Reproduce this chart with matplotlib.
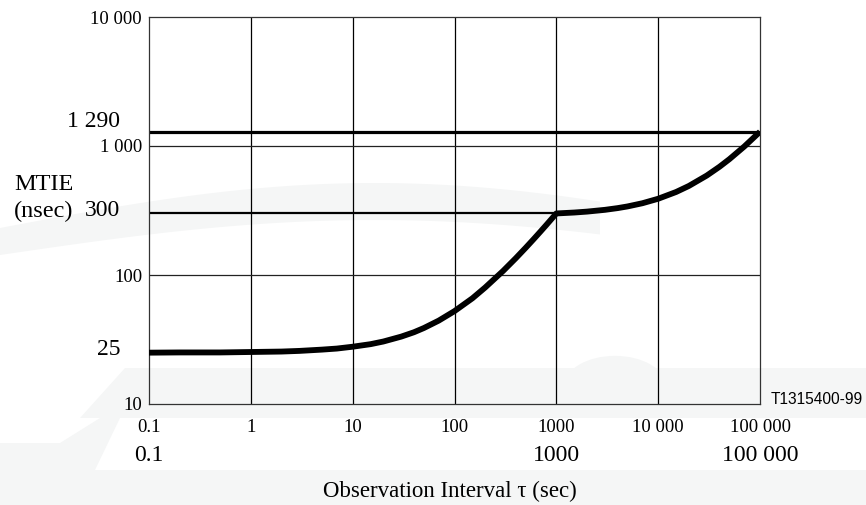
import matplotlib.pyplot as plt
import matplotlib.transforms as mtransforms
from matplotlib.patches import Polygon, Circle
import numpy as np

plt.rcParams["font.family"] = ["Liberation Serif", "DejaVu Serif"]

# MTIE mask (tau in sec, MTIE in nsec)
tau = [0.1, 0.2, 0.5, 1, 2, 3, 5, 7, 10, 15, 20, 30, 40, 50, 70, 100, 150, 200,
       300, 400, 500, 600, 700, 800, 1000, 1500, 2000, 3000, 4000, 5000, 7000,
       10000, 15000, 20000, 30000, 40000, 50000, 70000, 100000]
mtie = [25.0, 25.1, 25.1, 25.3, 25.5, 25.8, 26.4, 26.9, 27.8, 29.1, 30.5, 33.3,
        36.0, 38.8, 44.3, 52.5, 66.0, 80.0, 107.5, 135.0, 162.5, 190.0, 217.5,
        245.0, 300.0, 305.0, 310.0, 320.0, 330.0, 340.0, 360.0, 390.0, 440.0,
        490.0, 590.0, 690.0, 790.0, 990.0, 1290.0]

level_hi = 1290
level_mid = 300
level_mid_end = 1000

x_ticks = [0.1, 1, 10, 100, 1000, 10000, 100000]
x_tick_labels = ["0.1", "1", "10", "100", "1000", "10 000", "100 000"]
y_ticks = [10, 100, 1000, 10000]
y_tick_labels = ["10", "100", "1 000", "10 000"]

x_marks = [0.1, 1000, 100000]
x_mark_labels = ["0.1", "1000", "100 000"]
y_marks = [25, 300, 1290]
y_mark_labels = ["25", "300", "1 290"]
y_mark_lift = [3, 3, 10]  # px above the line

W, H = 866, 505
fig = plt.figure(figsize=(W / 100, H / 100), dpi=100)
fig.patch.set_facecolor("white")

# faint watermark behind the chart
wm = "#f5f6f6"
def px(pts):
    return [(x / W, 1 - y / H) for x, y in pts]

fig.patches.append(Polygon(px([(125, 368), (866, 368), (866, 418), (80, 418)]),
                           closed=True, transform=fig.transFigure, fc=wm, ec="none", zorder=-5))
fig.patches.append(Polygon(px([(0, 443), (60, 443), (100, 418), (120, 418), (95, 470),
                               (866, 470), (866, 505), (0, 505)]),
                           closed=True, transform=fig.transFigure, fc=wm, ec="none", zorder=-5))
t = np.linspace(0, 1, 40)
top_edge = [(600 * s, 228 - 45 * np.sin(np.pi * s * 0.8)) for s in t]
bot_edge = [(600 * s, 255 - 35 * np.sin(np.pi * s * 0.8)) for s in t[::-1]]
fig.patches.append(Polygon(px(top_edge + bot_edge), closed=True, transform=fig.transFigure,
                           fc=wm, ec="none", zorder=-5))
fig.patches.append(Circle((615 / W, 1 - 385 / H), 50 / W, transform=fig.transFigure,
                          fc=wm, ec="none", zorder=-5))

ax = fig.add_axes([149 / W, 101 / H, 611 / W, 387 / H])
ax.set_facecolor("none")
ax.set_xscale("log")
ax.set_yscale("log")
ax.set_xlim(0.1, 100000)
ax.set_ylim(10, 10000)

for x in x_ticks[1:-1]:
    ax.axvline(x, color="black", lw=0.9, zorder=1)
for y in y_ticks[1:-1]:
    ax.axhline(y, color="#222222", lw=0.9, zorder=1)

ax.plot([0.1, 100000], [level_hi, level_hi], color="black", lw=2.3, zorder=2)
ax.plot([0.1, level_mid_end], [level_mid, level_mid], color="black", lw=1.6, zorder=2)
ax.plot(tau, mtie, color="black", lw=4.2, solid_capstyle="butt",
        solid_joinstyle="round", zorder=3)

for s in ax.spines.values():
    s.set_color("#333333")
    s.set_linewidth(0.9)

ax.set_xticks(x_ticks)
ax.set_xticklabels(x_tick_labels, fontsize=13.5)
ax.set_yticks(y_ticks)
ax.set_yticklabels(y_tick_labels, fontsize=13.5)
ax.minorticks_off()
ax.tick_params(axis="x", length=0, pad=11)
ax.tick_params(axis="y", length=0, pad=5)

# big labels for the mask corners, below the x ticks and left of the y ticks
tx = mtransforms.blended_transform_factory(ax.transData, ax.transAxes)
for x, lab in zip(x_marks, x_mark_labels):
    ax.text(x, -(461 - 404) / 387, lab, transform=tx, ha="center", va="baseline",
            fontsize=17)

ty = mtransforms.blended_transform_factory(ax.transAxes, ax.transData)
for y, lab, lift in zip(y_marks, y_mark_labels, y_mark_lift):
    shift = mtransforms.ScaledTranslation(-29 / 100, lift / 100, fig.dpi_scale_trans)
    ax.text(0, y, lab, transform=ty + shift, ha="right", va="center", fontsize=17,
            clip_on=False)

fig.text(14 / W, 1 - 184 / H, "MTIE", ha="left", va="center", fontsize=17.5)
fig.text(14 / W, 1 - 211 / H, "(nsec)", ha="left", va="center", fontsize=17.5)
fig.text(0.519, 1 - 491 / H, "Observation Interval τ (sec)", ha="center", va="center",
         fontsize=16.5)
fig.text(771 / W, 1 - 400 / H, "T1315400-99", ha="left", va="center", fontsize=11.2,
         family=["Liberation Sans", "DejaVu Sans"])

fig.savefig("out.png", dpi=100, facecolor="white")
